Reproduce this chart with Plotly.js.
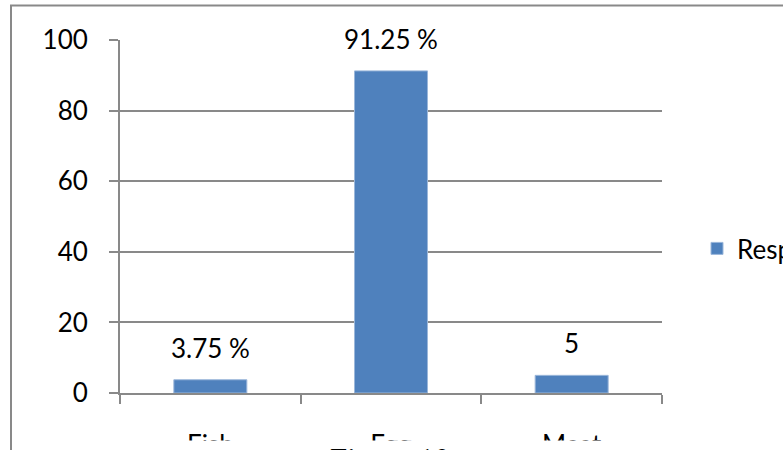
<!DOCTYPE html>
<html>
<head>
<meta charset="utf-8">
<script src="https://cdn.plot.ly/plotly-3.0.1.min.js"></script>
<style>
  html, body { margin: 0; padding: 0; background: #fff; }
  #chart { width: 783px; height: 450px; }
</style>
</head>
<body>
<div id="chart"></div>
<script>
// Food source preference: share of respondents (%)
const categories = ['Fish', 'Egg', 'Meat'];
const values = [3.75, 91.25, 5];
const valueLabels = ['3.75 %', '91.25 %', '5'];
const seriesName = 'Respondents';
const yTicks = [0, 20, 40, 60, 80, 100];
const caption = 'Figure 10';

const grey = '#898989';
const font = 'Lato, "Open Sans", sans-serif';

const trace = {
  type: 'bar',
  x: categories,
  y: values,
  name: seriesName,
  marker: { color: '#4F81BD', line: { color: '#9bb7da', width: 1 } },
  showlegend: true,
  hoverinfo: 'skip'
};

// value labels sit above each bar
const labelAnnotations = categories.map((c, i) => ({
  x: c, y: values[i], xref: 'x', yref: 'y',
  text: valueLabels[i], showarrow: false,
  yanchor: 'bottom', yshift: 14,
  font: { family: font, size: 26, color: '#000' }
}));

// pixel -> paper helpers for the fixed plot box (x 120..662, y 39.5..392.5)
const px = v => (v - 120) / 542;
const py = v => (392.5 - v) / 353;

const layout = {
  width: 783, height: 450,
  margin: { l: 120, r: 121, t: 40, b: 57, autoexpand: false },
  paper_bgcolor: '#fff', plot_bgcolor: '#fff',
  bargap: 0.596,
  font: { family: font, size: 26, color: '#000' },
  xaxis: {
    type: 'category',
    showline: true, linecolor: grey, linewidth: 2,
    ticks: 'outside', tickson: 'boundaries', ticklen: 9, tickwidth: 2, tickcolor: grey,
    ticklabelstandoff: 28,
    showgrid: false, zeroline: false,
    tickfont: { family: font, size: 26, color: '#000' }
  },
  yaxis: {
    range: [0, 100], tickvals: yTicks,
    showline: true, linecolor: grey, linewidth: 2,
    ticks: 'outside', ticklen: 9, tickwidth: 2, tickcolor: grey,
    ticklabelstandoff: 16,
    showgrid: true, gridcolor: grey, gridwidth: 2,
    zeroline: false,
    tickfont: { family: font, size: 26, color: '#000' }
  },
  legend: {
    x: px(697), xanchor: 'left', y: py(248), yanchor: 'middle',
    bgcolor: 'rgba(0,0,0,0)', borderwidth: 0,
    font: { family: font, size: 26, color: '#000' }
  },
  shapes: [
    {
      // chart frame
      type: 'rect', xref: 'paper', yref: 'paper',
      x0: px(11), x1: 2, y0: -1, y1: py(5),
      line: { color: grey, width: 2 }, fillcolor: 'rgba(0,0,0,0)', layer: 'below'
    },
    {
      // page strip below the chart, where the caption sits
      type: 'rect', xref: 'paper', yref: 'paper',
      x0: px(13), x1: 2, y0: -1, y1: py(440),
      line: { width: 0 }, fillcolor: '#fff', layer: 'above'
    }
  ],
  annotations: labelAnnotations.concat([{
    text: caption, xref: 'paper', yref: 'paper',
    x: px(328), xanchor: 'left',
    y: py(439), yanchor: 'top',
    showarrow: false,
    font: { family: '"Liberation Serif", "Times New Roman", serif', size: 31, color: '#000' }
  }])
};

Plotly.newPlot('chart', [trace], layout, { displayModeBar: false, staticPlot: true });
</script>
</body>
</html>
